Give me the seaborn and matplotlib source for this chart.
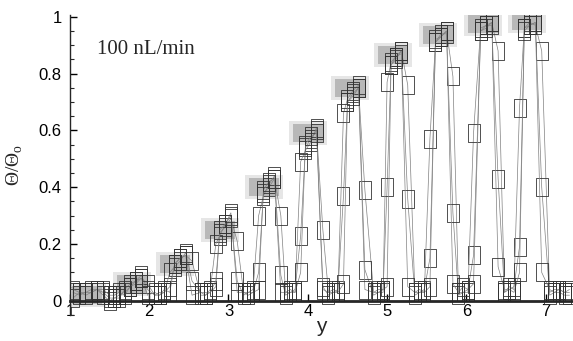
import numpy as np
import pandas as pd
import matplotlib
matplotlib.use("Agg")
import matplotlib.pyplot as plt
from matplotlib.path import Path
from matplotlib.ticker import MultipleLocator
import seaborn as sns

# ---- data ----
y_grid = [1.04, 1.12,
          1.20, 1.27, 1.34, 1.42, 1.50, 1.56, 1.62, 1.69,
          1.76, 1.83, 1.90, 1.98, 2.07, 2.13, 2.19, 2.26,
          2.32, 2.39, 2.46, 2.54, 2.65, 2.71, 2.77, 2.84,
          2.89, 2.96, 3.03, 3.11, 3.19, 3.25, 3.31, 3.38,
          3.44, 3.51, 3.58, 3.66, 3.72, 3.78, 3.84, 3.91,
          3.97, 4.04, 4.11, 4.19, 4.26, 4.32, 4.38, 4.45,
          4.50, 4.57, 4.64, 4.72, 4.83, 4.89, 4.95, 5.00,
          5.05, 5.11, 5.18, 5.26, 5.35, 5.41, 5.47, 5.54,
          5.61, 5.68, 5.75, 5.83, 5.90, 5.96, 6.02, 6.09,
          6.18, 6.25, 6.32, 6.40, 6.48, 6.54, 6.60, 6.67,
          6.73, 6.80, 6.87, 6.95, 7.05, 7.11, 7.17, 7.24,
          7.30]

theta_a = [0.03, 0.02,
           0.03, 0.04, 0.04, 0.03, 0.01, 0.01, 0.02, 0.03,
           0.05, 0.07, 0.08, 0.06, 0.02, 0.02, 0.03, 0.05,
           0.13, 0.15, 0.16, 0.14, 0.02, 0.02, 0.03, 0.05,
           0.24, 0.26, 0.29, 0.21, 0.03, 0.02, 0.03, 0.10,
           0.38, 0.40, 0.43, 0.30, 0.03, 0.03, 0.04, 0.23,
           0.54, 0.57, 0.60, 0.25, 0.03, 0.03, 0.04, 0.37,
           0.70, 0.73, 0.75, 0.39, 0.03, 0.03, 0.04, 0.40,
           0.83, 0.86, 0.88, 0.76, 0.03, 0.03, 0.04, 0.15,
           0.91, 0.93, 0.95, 0.79, 0.03, 0.03, 0.04, 0.16,
           0.95, 0.97, 0.98, 0.88, 0.03, 0.04, 0.05, 0.19,
           0.96, 0.98, 0.97, 0.88, 0.03, 0.04, 0.04, 0.03,
           0.03]

theta_b = [0.01, 0.03,
           0.02, 0.03, 0.04, 0.02, 0.00, 0.01, 0.01, 0.04,
           0.06, 0.07, 0.09, 0.04, 0.02, 0.03, 0.03, 0.10,
           0.12, 0.14, 0.17, 0.07, 0.03, 0.02, 0.04, 0.20,
           0.23, 0.27, 0.30, 0.07, 0.02, 0.03, 0.04, 0.30,
           0.37, 0.41, 0.44, 0.09, 0.02, 0.03, 0.03, 0.49,
           0.53, 0.56, 0.61, 0.05, 0.02, 0.03, 0.03, 0.66,
           0.71, 0.74, 0.76, 0.11, 0.02, 0.03, 0.03, 0.77,
           0.84, 0.86, 0.87, 0.36, 0.02, 0.03, 0.03, 0.57,
           0.91, 0.94, 0.94, 0.31, 0.02, 0.03, 0.03, 0.59,
           0.96, 0.97, 0.97, 0.43, 0.03, 0.05, 0.04, 0.68,
           0.96, 0.97, 0.98, 0.40, 0.02, 0.03, 0.03, 0.02,
           0.02]

theta_c = [0.04, 0.03,
           0.03, 0.03, 0.04, 0.04, 0.02, 0.02, 0.03, 0.02,
           0.05, 0.06, 0.08, 0.02, 0.03, 0.02, 0.04, 0.03,
           0.13, 0.15, 0.16, 0.02, 0.03, 0.03, 0.03, 0.07,
           0.25, 0.27, 0.31, 0.03, 0.03, 0.03, 0.03, 0.04,
           0.39, 0.42, 0.43, 0.03, 0.03, 0.04, 0.03, 0.10,
           0.55, 0.58, 0.59, 0.04, 0.03, 0.04, 0.03, 0.06,
           0.70, 0.72, 0.75, 0.04, 0.03, 0.04, 0.04, 0.05,
           0.83, 0.85, 0.88, 0.05, 0.03, 0.04, 0.03, 0.05,
           0.92, 0.93, 0.95, 0.06, 0.03, 0.05, 0.04, 0.06,
           0.95, 0.96, 0.98, 0.12, 0.04, 0.04, 0.03, 0.10,
           0.95, 0.97, 0.98, 0.10, 0.04, 0.03, 0.04, 0.03,
           0.04]

# grey (shaded) plateau blobs
shade_y = [1.22, 1.78, 2.33, 2.89, 3.45, 4.00, 4.53, 5.07, 5.64, 6.21, 6.76]
shade_theta = [0.02, 0.06, 0.13, 0.25, 0.40, 0.59, 0.75, 0.865, 0.935, 0.975, 0.985]

y_ticks = [1, 2, 3, 4, 5, 6, 7]
theta_ticks = [0, 0.2, 0.4, 0.6, 0.8, 1]
theta_tick_labels = ["0", "0.2", "0.4", "0.6", "0.8", "1"]
annotation = "100 nL/min"

# ---- build table ----
n = len(y_grid)
df = pd.DataFrame({
    "y": y_grid * 3,
    "theta": theta_a + theta_b + theta_c,
    "profile": ["a"] * n + ["b"] * n + ["c"] * n,
})
shade = pd.DataFrame({"y": shade_y, "theta": shade_theta})

sns.set_style("ticks")
plt.rcParams["font.family"] = ["Liberation Sans Narrow", "Liberation Sans", "DejaVu Sans"]

fig = plt.figure(figsize=(5.73, 3.41), dpi=100)
ax = fig.add_axes([0.122, 0.076, 0.876, 0.879])

tall_rect = Path([(-0.33, -0.5), (0.33, -0.5), (0.33, 0.5), (-0.33, 0.5), (-0.33, -0.5)],
                 [Path.MOVETO, Path.LINETO, Path.LINETO, Path.LINETO, Path.CLOSEPOLY])
wide_rect = Path([(-0.5, -0.32), (0.5, -0.32), (0.5, 0.32), (-0.5, 0.32), (-0.5, -0.32)],
                 [Path.MOVETO, Path.LINETO, Path.LINETO, Path.LINETO, Path.CLOSEPOLY])

# grey shading behind plateau clusters
sns.scatterplot(data=shade, x="y", y="theta", marker=wide_rect, s=760,
                color="0.88", linewidth=0, alpha=0.8, ax=ax, zorder=1, legend=False)
sns.scatterplot(data=shade, x="y", y="theta", marker=wide_rect, s=440,
                color="0.68", linewidth=0, alpha=0.8, ax=ax, zorder=1, legend=False)

sns.lineplot(data=df, x="y", y="theta", units="profile", estimator=None, sort=True,
             color="0.5", linewidth=0.5, marker=tall_rect, markersize=13,
             markerfacecolor="none", markeredgecolor="0.2", markeredgewidth=0.6,
             ax=ax, zorder=3, legend=False)

ax.set_xlim(1.0, 7.33)
ax.set_ylim(-0.05, 1.005)
ax.set_xticks(y_ticks)
ax.set_yticks(theta_ticks)
ax.set_yticklabels(theta_tick_labels)
ax.yaxis.set_minor_locator(MultipleLocator(0.05))

ax.spines["top"].set_visible(False)
ax.spines["right"].set_visible(False)
ax.spines["bottom"].set_position(("data", 0))
ax.spines["bottom"].set_linewidth(2.0)
ax.spines["left"].set_linewidth(1.0)
ax.spines["bottom"].set_zorder(4)

ax.tick_params(axis="both", direction="in", colors="black", labelsize=12)
ax.tick_params(axis="y", which="major", length=5, width=1, pad=6)
ax.tick_params(axis="y", which="minor", length=3, width=0.8, direction="in")
ax.tick_params(axis="x", which="major", length=5, width=1, pad=2)

ax.set_xlabel("y", fontsize=15, labelpad=-1)
ax.set_ylabel("Θ/Θ$_\\mathregular{o}$", fontsize=14, labelpad=10,
              family=["Liberation Serif", "DejaVu Serif"])

ax.text(0.054, 0.885, annotation, transform=ax.transAxes, fontsize=15,
        family=["Liberation Serif", "DejaVu Serif"], ha="left", va="center")

fig.savefig("out.png", dpi=100)
